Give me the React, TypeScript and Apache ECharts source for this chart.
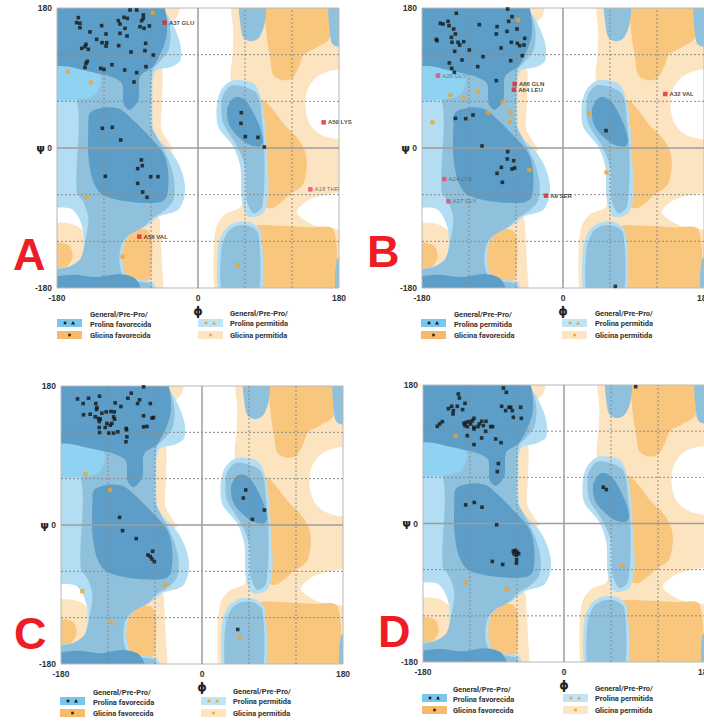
import React, { useEffect, useRef } from "react";
import * as echarts from "echarts";

type P = [number, number];
type L = [number, number, string];

// ---------------- axis / grid values ----------------
const labelTicks = [-180, 0, 180];
const dashedLines = [-120, -60, 60, 120];
const zeroLines = [0];
const borderLines = [-180, 180];
const panelLetters = ["A", "B", "C", "D"];

// ---------------- background regions (phi, psi) ----------------
const glyAllowedRegions: P[][] = [
  [[43, 180], [180, 180], [180, -180], [22, -180], [20, -130], [24, -100], [35, -85], [55, -75], [60, -20], [60, 40], [42, 88], [44, 120], [45, 150]],
  [[-56, 180], [-24, 180], [-26, 170], [-36, 160], [-50, 158], [-58, 165]],
  [[-62, 106], [-47, 106], [-46, 60], [-47, 25], [-38, 8], [-32, -3], [-60, -3]],
  [[-100, -92], [-52, -88], [-48, -110], [-46, -150], [-45, -180], [-100, -180]],
  [[-180, -97], [-160, -98], [-146, -108], [-143, -135], [-152, -150], [-180, -155]],
];
const emptyRegions: P[][] = [
  [[180, 101], [165, 98], [150, 90], [140, 75], [137, 55], [141, 35], [150, 22], [165, 14], [180, 12]],
  [[180, -58], [164, -60], [143, -66], [130, -76], [126, -83], [135, -92], [150, -100], [168, -103], [180, -104]],
];
const glyFavouredRegions: P[][] = [
  [[86, 180], [168, 180], [168, 141], [151, 129], [135, 120], [130, 107], [121, 90], [109, 87], [96, 94], [92, 116], [88, 141]],
  [[82, 62], [95, 50], [110, 30], [126, 14], [136, -3], [139, -21], [134, -47], [117, -60], [96, -77], [86, -75], [80, -24], [80, 10], [78, 45]],
  [[72, -103], [100, -100], [140, -102], [173, -105], [175, -180], [72, -180]],
  [[-100, -110], [-66, -105], [-59, -118], [-59, -150], [-63, -170], [-100, -172]],
  [[-180, -122], [-165, -125], [-160, -140], [-168, -153], [-180, -156]],
];
const rimRegions: P[][] = [
  [[-180, 180], [-53, 180], [-38, 170], [-28, 150], [-22, 130], [-23, 112], [-35, 104], [-55, 98], [-58, 60], [-57, 25], [-49, 10], [-36, -3], [-24, -22], [-17, -45], [-18, -65], [-26, -80], [-50, -88], [-65, -100], [-85, -110], [-95, -125], [-96, -150], [-90, -165], [-70, -170], [-58, -172], [-53, -180], [-180, -180], [-180, -157], [-165, -152], [-150, -143], [-146, -125], [-147, -105], [-153, -88], [-162, -78], [-180, -75]],
  [[45, 87], [30, 75], [24, 55], [26, 27], [45, 2], [54, -24], [56, -67], [64, -88], [83, -84], [90, -58], [88, -11], [86, 27], [81, 62], [71, 83]],
  [[26, -180], [26, -125], [35, -104], [50, -95], [68, -96], [80, -108], [82, -180]],
];
const allowedRegions: P[][] = [
  [[-180, 180], [-48, 180], [-38, 165], [-35, 145], [-38, 125], [-48, 112], [-58, 100], [-60, 60], [-60, 30], [-53, 15], [-45, 0], [-36, -20], [-30, -45], [-32, -68], [-45, -82], [-58, -90], [-70, -102], [-88, -112], [-98, -125], [-100, -150], [-93, -167], [-72, -172], [-60, -175], [-57, -180], [-180, -180], [-180, -158], [-165, -153], [-150, -142], [-143, -115], [-140, -90], [-146, -70], [-155, -55], [-155, 62], [-180, 62]],
  [[45, 81], [33, 70], [30, 55], [32, 32], [50, 2], [60, -24], [62, -67], [71, -84], [82, -75], [85, -11], [82, 32], [75, 70]],
  [[30, -180], [30, -130], [38, -108], [50, -100], [65, -100], [77, -110], [78, -180]],
  [[53, 180], [86, 180], [85, 160], [78, 142], [68, 137], [58, 142], [54, 160]],
  [[168, 180], [180, 180], [180, 130], [172, 133], [168, 152]],
  [[176, -180], [180, -180], [180, -135], [177, -145]],
];
const cyanRegions: P[][] = [
  [[-180, 108], [-150, 105], [-128, 100], [-124, 85], [-132, 68], [-155, 62], [-180, 62]],
];
const favouredRegions: P[][] = [
  [[-180, 180], [-45, 180], [-40, 165], [-40, 145], [-45, 128], [-57, 105], [-74, 92], [-76, 62], [-87, 49], [-95, 57], [-97, 83], [-112, 92], [-129, 96], [-146, 100], [-168, 105], [-180, 107]],
  [[-180, -180], [-180, -168], [-160, -163], [-130, -166], [-100, -162], [-80, -168], [-72, -180]],
  [[-140, 27], [-138, 45], [-120, 52], [-100, 50], [-85, 38], [-66, 19], [-44, -7], [-38, -33], [-40, -63], [-50, -70], [-80, -70], [-110, -65], [-125, -58], [-135, -40], [-140, -10]],
  [[45, 64], [37, 49], [41, 27], [62, 6], [79, 2], [83, 10], [77, 32], [64, 57], [54, 65]],
];

// ---------------- residues: panel A ----------------
const aGeneral: P[] = [
  [-86.8, 177.4], [-78.3, 177.4], [-69.8, 171.0], [-69.8, 166.7], [-152.8, 167.6], [-154.9, 161.2], [-150.7, 160.3], [-150.7, 154.7], [-123.0, 157.3], [-101.7, 163.7], [-94.5, 168.0], [-90.2, 166.7], [-99.6, 159.4], [-93.2, 153.9], [-71.9, 163.7], [-74.0, 156.0], [-68.9, 153.9], [-62.1, 156.9], [-137.9, 149.2], [-117.4, 146.6], [-99.6, 147.4], [-90.6, 144.0], [-129.4, 139.7], [-122.5, 135.4], [-116.6, 135.4], [-117.4, 131.1], [-143.0, 133.3], [-144.2, 130.3], [-148.5, 128.1], [-140.0, 126.9], [-66.8, 134.6], [-101.3, 131.6], [-85.5, 123.4], [-67.7, 125.2], [-57.0, 119.6], [-141.3, 111.4], [-143.0, 108.9], [-144.2, 103.7], [-109.8, 107.1], [-124.2, 102.4], [-120.0, 101.1], [-93.6, 100.3], [-66.4, 104.6], [-78.3, 96.9], [-81.7, 84.9],
  [-122.1, 25.3], [-109.4, 26.6], [-98.7, 10.3], [-72.3, -15.4], [-71.1, -22.7], [-77.0, -26.6], [-60.4, -36.9], [-51.1, -36.9], [-118.3, -36.4], [-77.0, -45.4], [-70.6, -56.6], [-65.1, -63.4],
  [55.3, 45.4], [54.9, 31.7], [60.4, 14.6], [76.6, 13.7], [84.7, 1.3],
];
const aGlycine: P[] = [[-57.9, 174.0], [-166.4, 98.1], [-136.6, 84.4], [-142.1, -63.9], [-96.2, -139.7], [50.2, -150.4]];
const aOutliers: L[] = [[-42.6, 161.2, "A37 GLU"], [160.4, 33.0, "A50 LYS"], [-74.9, -114.0, "A56 VAL"]];
const aOutliersThin: L[] = [[143.4, -53.1, "A18 THR"]];

// ---------------- panel B ----------------
const bGeneral: P[] = [
  [-136.2, 173.2], [-70.6, 178.7], [-65.1, 168.9], [-156.6, 160.3], [-153.2, 159.4], [-146.8, 162.9], [-145.5, 157.3], [-139.6, 153.0], [-106.8, 158.6], [-84.2, 156.0], [-69.4, 162.9], [-58.7, 153.0], [-85.1, 146.6], [-71.5, 150.0], [-48.9, 141.0], [-137.4, 146.6], [-142.5, 142.3], [-161.7, 139.7], [-160.8, 138.0], [-141.7, 135.9], [-134.0, 135.9], [-131.9, 132.4], [-126.8, 136.7], [-138.3, 124.3], [-119.6, 126.0], [-66.0, 135.9], [-58.3, 134.6], [-55.3, 131.6], [-49.8, 132.4], [-79.1, 128.6], [-102.1, 117.4], [-128.9, 113.2], [-66.8, 112.3], [-51.9, 118.7], [-145.1, 109.3], [-142.1, 102.4], [-138.7, 97.3], [-108.9, 104.6], [-85.1, 86.6],
  [-137.4, 38.1], [-124.2, 37.7], [-114.9, 42.4], [-103.4, 2.6], [-70.6, -4.7], [-71.1, -14.1], [-63.0, -16.3], [-78.7, -24.9], [-65.1, -27.0], [-61.7, -25.7], [-84.2, -32.6], [-77.4, -44.1],
  [54.9, 22.3], [66.8, -177.9],
];
const bGlycine: P[] = [[-57.4, 164.6], [-108.9, 72.9], [-126.8, 63.9], [-143.8, 68.1], [-77.0, 58.7], [-95.3, 45.4], [-66.8, 45.9], [-166.8, 33.0], [-67.7, 33.4], [-43.0, -28.3], [33.2, 45.0], [55.3, -31.3]];
const bOutliers: L[] = [[-61.7, 82.3, "A66 GLN"], [-62.6, 75.0, "A64 LEU"], [130.6, 69.4, "A32 VAL"], [-21.7, -61.3, "A9 SER"]];
const bOutliersThin: L[] = [[-159.6, 93.0, "A26 GLY"], [-151.5, -39.9, "A24 LYS"], [-146.4, -68.6, "A37 GLY"]];

// ---------------- panel C ----------------
const cGeneral: P[] = [
  [-74.6, 178.9], [-90.3, 170.7], [-94.6, 164.2], [-79.7, 162.1], [-82.2, 157.3], [-66.0, 157.3], [-158.9, 163.3], [-144.8, 164.2], [-130.8, 166.8], [-151.7, 157.3], [-135.5, 157.3], [-110.8, 158.2], [-103.5, 153.4], [-134.2, 152.1], [-134.6, 149.6], [-122.3, 146.5], [-116.3, 147.0], [-112.0, 146.5], [-127.8, 144.8], [-142.7, 143.5], [-151.2, 142.7], [-136.3, 140.1], [-132.1, 137.9], [-129.9, 137.1], [-112.9, 140.1], [-111.6, 137.1], [-121.4, 131.5], [-115.0, 131.5], [-131.2, 134.0], [-131.2, 126.3], [-123.5, 126.3], [-117.2, 129.3], [-74.6, 141.4], [-63.9, 138.4], [-61.8, 139.2], [-74.6, 127.1], [-70.3, 127.6], [-96.7, 125.0], [-96.3, 123.3], [-130.8, 119.8], [-118.9, 119.0], [-112.9, 119.0], [-107.4, 120.7], [-95.9, 114.2], [-97.1, 107.8],
  [-105.2, 9.9], [-101.4, -7.3], [-83.9, -17.7], [-63.0, -34.0], [-69.0, -38.8], [-66.0, -40.9], [-63.9, -44.0], [-60.9, -47.4],
  [55.8, 45.3], [52.8, 34.9], [79.7, 19.4], [64.3, 7.3], [45.6, -135.3],
];
const cGlycine: P[] = [[-148.7, 65.9], [-117.2, 45.3], [-152.9, -85.8], [-47.3, -77.6], [-116.3, -125.9], [47.7, -145.2]];

// ---------------- panel D ----------------
const dGeneral: P[] = [
  [-77.4, 176.1], [-73.6, 170.5], [-134.9, 168.3], [-133.6, 163.1], [-126.4, 156.2], [-143.4, 152.3], [-147.6, 149.3], [-136.2, 152.3], [-129.4, 148.0], [-141.3, 146.7], [-141.7, 142.4], [-79.6, 152.3], [-70.2, 151.0], [-68.1, 151.0], [-55.3, 151.0], [-74.5, 146.7], [-66.0, 146.7], [-64.7, 138.0], [-54.5, 136.7], [-161.7, 126.3], [-158.7, 129.4], [-155.3, 132.4], [-127.7, 130.2], [-124.7, 131.5], [-121.3, 132.4], [-117.0, 133.7], [-114.9, 136.7], [-126.4, 127.2], [-123.4, 125.9], [-119.1, 129.4], [-114.9, 125.0], [-108.1, 129.4], [-105.1, 132.8], [-99.6, 132.8], [-103.0, 127.2], [-93.6, 125.9], [-91.1, 125.9], [-109.8, 125.9], [-123.4, 114.2], [-114.9, 122.9], [-105.1, 111.2], [-100.0, 119.9], [-87.2, 109.9], [-80.4, 105.1], [-114.9, 102.6], [-83.8, 77.9], [-85.1, 67.5],
  [-125.5, 24.2], [-114.5, 27.3], [-104.7, 21.2], [-86.0, -1.7], [-91.5, -49.3], [-78.3, -53.2], [-64.7, -35.9], [-62.1, -35.0], [-59.6, -37.2], [-63.8, -39.4], [-60.8, -41.5], [-57.9, -39.4], [-60.4, -47.2], [-60.8, -51.5],
  [50.2, 47.2], [54.0, 44.1], [91.5, 177.8],
];
const dGlycine: P[] = [[-138.3, 113.8], [-126.0, -76.6], [-73.2, -85.2], [74.5, -54.5]];

// ---------------- legend texts ----------------
const legendLeftTop = ["Prolina favorecida", "Prolina permitida", "Prolina favorecida", "Prolina favorecida"];

const panelData = [
  { general: aGeneral, gly: aGlycine, out: aOutliers, thin: aOutliersThin },
  { general: bGeneral, gly: bGlycine, out: bOutliers, thin: bOutliersThin },
  { general: cGeneral, gly: cGlycine, out: [] as L[], thin: [] as L[] },
  { general: dGeneral, gly: dGlycine, out: [] as L[], thin: [] as L[] },
];

// layout of the four panels (pixels); letter = [x, vertical centre]
const layout = [
  { left: 57, top: 8, width: 282, height: 280, letter: [13, 254], leg: [57, 90, 198, 230, 314] },
  { left: 422, top: 8, width: 282, height: 280, letter: [367, 251], leg: [421, 454, 562, 595, 314] },
  { left: 61, top: 386, width: 282, height: 278, letter: [14, 633], leg: [60, 93, 201, 233, 692] },
  { left: 423, top: 385, width: 282, height: 277, letter: [378, 631], leg: [422, 453, 563, 595, 689] },
];

const LAYERS: [P[][], string][] = [
  [glyAllowedRegions, "#fde4c1"],
  [emptyRegions, "#ffffff"],
  [glyFavouredRegions, "#f9c67e"],
  [rimRegions, "#b2ddf2"],
  [allowedRegions, "#8fc1dd"],
  [cyanRegions, "#8fd2f2"],
  [favouredRegions, "#5c9ec7"],
];

// densify straight edges that lie on the plot border so smoothing keeps them straight,
// and push border vertices slightly outward (they are clipped by the grid)
function prepare(poly: P[]): P[] {
  const out: P[] = [];
  const n = poly.length;
  for (let k = 0; k < n; k++) {
    const a = poly[k];
    const b = poly[(k + 1) % n];
    out.push(a);
    const onX = Math.abs(a[0]) >= 180 && a[0] === b[0];
    const onY = Math.abs(a[1]) >= 180 && a[1] === b[1];
    if (onX || onY) {
      const len = onX ? Math.abs(b[1] - a[1]) : Math.abs(b[0] - a[0]);
      const steps = Math.max(1, Math.ceil(len / 12));
      for (let s = 1; s < steps; s++) {
        const t = s / steps;
        out.push([a[0] + (b[0] - a[0]) * t, a[1] + (b[1] - a[1]) * t]);
      }
    }
  }
  const ext = (v: number) => (v >= 180 ? 186 : v <= -180 ? -186 : v);
  return out.map(([x, y]) => [ext(x), ext(y)] as P);
}

function regionSeries(gi: number, polys: P[][], color: string, layer: number) {
  const prepared = polys.map(prepare);
  return {
    type: "custom",
    xAxisIndex: gi,
    yAxisIndex: gi,
    clip: true,
    silent: true,
    z: 1,
    data: polys.map((_, i) => [i, 0]),
    renderItem: (_params: any, api: any) => {
      const poly = prepared[api.value(0)];
      const pts = poly.map((p) => api.coord(p));
      return {
        type: "polygon",
        z2: layer,
        shape: { points: pts, smooth: 0.3 },
        style: { fill: color },
      };
    },
  };
}

function lineSeries(gi: number) {
  const items: number[][] = [];
  for (const v of borderLines) { items.push([0, v, 2]); items.push([1, v, 2]); }
  for (const v of dashedLines) { items.push([0, v, 1]); items.push([1, v, 1]); }
  for (const v of zeroLines) { items.push([0, v, 0]); items.push([1, v, 0]); }
  return {
    type: "custom",
    xAxisIndex: gi,
    yAxisIndex: gi,
    silent: true,
    z: 3,
    data: items,
    renderItem: (_params: any, api: any) => {
      const dim = api.value(0);
      const v = api.value(1);
      const kind = api.value(2);
      const p1 = dim === 0 ? api.coord([v, -180]) : api.coord([-180, v]);
      const p2 = dim === 0 ? api.coord([v, 180]) : api.coord([180, v]);
      const style =
        kind === 0
          ? { stroke: "#9d9d9d", lineWidth: 1.5 }
          : kind === 1
          ? { stroke: "#8a8a8a", lineWidth: 1, lineDash: [2, 2] }
          : { stroke: "#b8b8b8", lineWidth: 1 };
      return { type: "line", shape: { x1: p1[0], y1: p1[1], x2: p2[0], y2: p2[1] }, style };
    },
  };
}

function legendGraphics(i: number) {
  const [lx, tx, rx, rtx, y] = layout[i].leg;
  const font = "bold 7.5px Roboto";
  const txt = (x: number, yy: number, s: string) => ({
    type: "text",
    x,
    y: yy,
    silent: true,
    style: { text: s, font, fill: "#333", align: "left", verticalAlign: "middle", textAlign: "left", textVerticalAlign: "middle" },
  });
  const sw = (x: number, cy: number, fill: string) => ({
    type: "rect",
    silent: true,
    shape: { x, y: cy - 4, width: 25, height: 8 },
    style: { fill },
  });
  const dot = (x: number, cy: number, fill: string) => ({
    type: "rect",
    silent: true,
    shape: { x: x - 1.3, y: cy - 1.3, width: 2.6, height: 2.6 },
    style: { fill },
  });
  const tri = (x: number, cy: number, fill: string) => ({
    type: "polygon",
    silent: true,
    shape: { points: [[x - 2, cy + 1.6], [x + 2, cy + 1.6], [x, cy - 2]] },
    style: { fill },
  });
  return [
    sw(lx, y + 9, "#78c6ee"),
    dot(lx + 8, y + 9, "#1a1a1a"),
    tri(lx + 16, y + 9, "#1a1a1a"),
    txt(tx, y, "General/Pre-Pro/"),
    txt(tx, y + 10, legendLeftTop[i]),
    sw(lx, y + 21, "#f7b96a"),
    dot(lx + 12.5, y + 21, "#3a2a10"),
    txt(tx, y + 21, "Glicina favorecida"),
    sw(rx, y + 9, "#bfe4f6"),
    dot(rx + 8, y + 9, "#f0a530"),
    tri(rx + 16, y + 9, "#f0a530"),
    txt(rtx, y - 1, "General/Pre-Pro/"),
    txt(rtx, y + 9, "Prolina permitida"),
    sw(rx, y + 21, "#fde4c3"),
    dot(rx + 12.5, y + 21, "#f0a530"),
    txt(rtx, y + 21, "Glicina permitida"),
  ];
}

function buildOption() {
  const grid: any[] = [];
  const xAxis: any[] = [];
  const yAxis: any[] = [];
  const series: any[] = [];
  const graphic: any[] = [];
  const axisFont = { fontSize: 8.5, fontWeight: "bold", color: "#333", fontFamily: "Liberation Sans" };

  layout.forEach((g, i) => {
    grid.push({ left: g.left, top: g.top, width: g.width, height: g.height, containLabel: false, outerBoundsMode: "none", show: false });
    xAxis.push({
      gridIndex: i, type: "value", min: -180, max: 180, interval: 60,
      name: "ϕ", nameLocation: "middle", nameGap: 17,
      nameTextStyle: { fontSize: 12, fontWeight: "bold", color: "#222", fontFamily: "DejaVu Sans" },
      axisLine: { show: false }, axisTick: { show: false }, splitLine: { show: false },
      axisLabel: { ...axisFont, margin: 5, formatter: (v: number) => (labelTicks.includes(v) ? String(v) : "") },
    });
    yAxis.push({
      gridIndex: i, type: "value", min: -180, max: 180, interval: 60,
      axisLine: { show: false }, axisTick: { show: false }, splitLine: { show: false },
      axisLabel: {
        ...axisFont, margin: 5,
        formatter: (v: number) => (v === 0 ? "{p|ψ} 0" : labelTicks.includes(v) ? String(v) : ""),
        rich: { p: { fontSize: 11, fontWeight: "bold", color: "#222", fontFamily: "DejaVu Sans" } },
      },
    });
    LAYERS.forEach(([polys, color], li) => series.push(regionSeries(i, polys, color, li)));
    series.push(lineSeries(i));
    const d = panelData[i];
    series.push({
      type: "scatter", xAxisIndex: i, yAxisIndex: i, silent: true, z: 5,
      symbol: "rect", symbolSize: 3.6, itemStyle: { color: "#151515" }, data: d.general,
    });
    series.push({
      type: "scatter", xAxisIndex: i, yAxisIndex: i, silent: true, z: 5,
      symbol: "rect", symbolSize: 4.2, itemStyle: { color: "#f0a22c" }, data: d.gly,
    });
    series.push({
      type: "scatter", xAxisIndex: i, yAxisIndex: i, silent: true, z: 6,
      symbol: "rect", symbolSize: 4.5, itemStyle: { color: "#e61e2b" },
      data: d.out.map(([x, y, n]) => ({ value: [x, y], name: n })),
      label: { show: true, formatter: "{b}", position: "right", distance: 2, fontSize: 6, fontWeight: "bold", color: "#111", fontFamily: "Liberation Sans" },
    });
    series.push({
      type: "scatter", xAxisIndex: i, yAxisIndex: i, silent: true, z: 6,
      symbol: "rect", symbolSize: 4.5, itemStyle: { color: "#e8466a" },
      data: d.thin.map(([x, y, n]) => ({ value: [x, y], name: n })),
      label: { show: true, formatter: "{b}", position: "right", distance: 2, fontSize: 6, color: "#555", fontFamily: "Liberation Sans" },
    });
    graphic.push({
      type: "text", x: g.letter[0], y: g.letter[1], silent: true, z: 10,
      style: {
        text: panelLetters[i], font: "bold 45px 'Liberation Sans'", fill: "#ee1c25",
        align: "left", verticalAlign: "middle", textAlign: "left", textVerticalAlign: "middle",
      },
    });
    graphic.push(...legendGraphics(i));
  });

  return { animation: false, backgroundColor: "#ffffff", grid, xAxis, yAxis, series, graphic };
}

export default function App() {
  const ref = useRef<HTMLDivElement | null>(null);
  useEffect(() => {
    if (!ref.current) return;
    const chart = echarts.init(ref.current, null, { renderer: "svg" });
    chart.setOption(buildOption() as any);
    return () => chart.dispose();
  }, []);
  return <div ref={ref} style={{ position: "absolute", left: 0, top: 0, width: 704, height: 722 }} />;
}
